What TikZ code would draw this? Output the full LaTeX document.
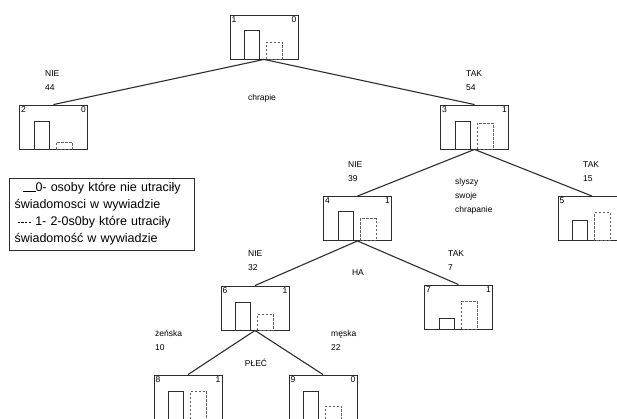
\documentclass[tikz,border=0pt]{standalone}
\usepackage{fontspec}
\setmainfont{Liberation Sans}
\usetikzlibrary{calc}
\definecolor{ink}{RGB}{45,45,45}
\tikzset{
  leafbox/.style 2 args={draw=ink,line width=0.9pt,minimum width=68pt,minimum height=44pt,inner sep=0pt,
    label={[num,anchor=north west]north west:#1},
    label={[num,anchor=north east]north east:#2}},
  num/.style={font=\fontsize{8.5}{8.5}\selectfont,inner sep=1.8pt},
  link/.style={draw=ink,line width=1.1pt},
  tag/.style={font=\fontsize{8.5}{14}\selectfont,align=left,inner sep=0pt},
  bar/.style={draw=ink,line width=0.9pt},
  dbar/.style={draw=ink!75,line width=0.9pt,dash pattern=on 2.5pt off 1.5pt},
  legend/.style={draw=ink,line width=0.8pt,minimum width=184pt,minimum height=72pt,
    text width=175pt,align=left,inner xsep=5pt,font=\fontsize{12.5}{17}\selectfont},
}
% solid bar = class 0, dashed bar = class 1
\newcommand\bars[3]{%
  \draw[bar] ($(#1.south west)+(15,0)$) rectangle ++(15,-#2);
  \draw[dbar] ($(#1.south west)+(37,0)$) rectangle ++(16,-#3);
}
\newcommand\dashrule{\rule[3.5pt]{2.5pt}{0.6pt}\hspace{1.2pt}\rule[3.5pt]{2.5pt}{0.6pt}\hspace{1.2pt}%
  \rule[3.5pt]{2.5pt}{0.6pt}\hspace{1.2pt}\rule[3.5pt]{2.5pt}{0.6pt}}

\begin{document}
\begin{tikzpicture}[x=1pt,y=-1pt]
  \useasboundingbox (0,0) rectangle (617,419);
  % tree
  \node[leafbox={1}{0}] (n1) at (264,37) {};
  \node[leafbox={2}{0}] (n2) at (53.5,127) {};
  \node[leafbox={3}{1}] (n3) at (474.5,127) {};
  \node[leafbox={4}{1}] (n4) at (357.5,218.5) {};
  \node[leafbox={5}{}] (n5) at (592,218.5) {};
  \node[leafbox={6}{1}] (n6) at (255,308) {};
  \node[leafbox={7}{1}] (n7) at (458.5,307) {};
  \node[leafbox={8}{1}] (n8) at (188,397) {};
  \node[leafbox={9}{0}] (n9) at (323,397) {};
  \bars{n1}{29}{17} \bars{n2}{28}{7} \bars{n3}{28}{26}
  \bars{n4}{29}{22} \bars{n5}{20}{28} \bars{n6}{28}{16}
  \bars{n7}{11}{28} \bars{n8}{28}{28} \bars{n9}{28}{13}
  \draw[link] (n1.south) -- (n2.north);
  \draw[link] (n1.south) -- (n3.north);
  \draw[link] (n3.south) -- (n4.north);
  \draw[link] (n3.south) -- (n5.north);
  \draw[link] (n4.south) -- (n6.north);
  \draw[link] (n4.south) -- (n7.north);
  \draw[link] (n6.south) -- (n8.north);
  \draw[link] (n6.south) -- (n9.north);
  % labels
  \node[tag,anchor=west] (t12) at (45,81) {NIE\\44};
  \node[tag,anchor=west] (t13) at (466,81) {TAK\\54};
  \node[tag] (s1) at (262,98) {chrapie};
  \node[tag,anchor=west] (t34) at (348,171.5) {NIE\\39};
  \node[tag,anchor=west] (t35) at (583,171.5) {TAK\\15};
  \node[tag,anchor=west] (s3) at (455,196) {slyszy\\swoje\\chrapanie};
  \node[tag,anchor=west] (t46) at (248,261) {NIE\\32};
  \node[tag,anchor=west] (t47) at (448,261) {TAK\\7};
  \node[tag] (s4) at (358,273) {HA};
  \node[tag,anchor=west] (t68) at (155,340) {żeńska\\10};
  \node[tag,anchor=west] (t69) at (331,340.5) {męska\\22};
  \node[tag] (s6) at (256,363) {PŁEĆ};
  % legend
  \node[legend] (key) at (102,214) {\hspace*{8pt}\rule{13pt}{0.6pt}0- osoby które nie utraciły\\świadomosci w wywiadzie\\\hspace*{3pt}\dashrule\ 1- 2-0s0by które utraciły\\świadomość w wywiadzie};
\end{tikzpicture}
\end{document}
